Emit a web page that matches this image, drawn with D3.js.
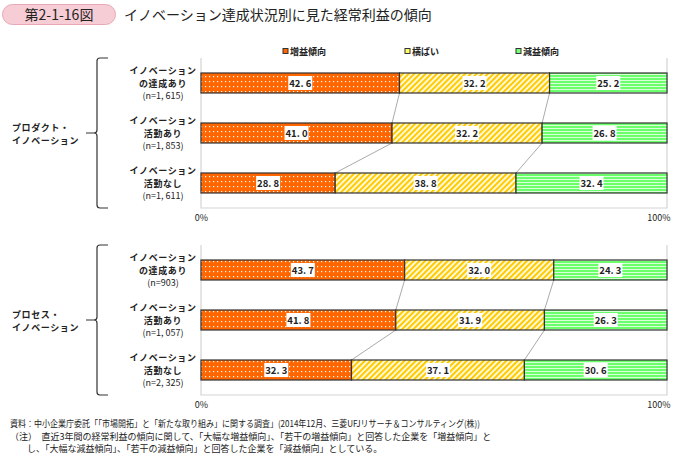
<!DOCTYPE html>
<html><head><meta charset="utf-8">
<script src="https://cdn.jsdelivr.net/npm/d3@7/dist/d3.min.js"></script>
<style>body{margin:0;background:#fff;} text{font-family:"Noto Sans CJK JP","Noto Sans",sans-serif;}</style>
</head><body>
<svg id="c" width="687" height="457"></svg>
<script>
const seriesNames = ["増益傾向", "横ばい", "減益傾向"];
const groups = ["プロダクト・\nイノベーション", "プロセス・\nイノベーション"];
const categories = [
  ["イノベーション\nの達成あり\n(n=1, 615)", "イノベーション\n活動あり\n(n=1, 853)", "イノベーション\n活動なし\n(n=1, 611)"],
  ["イノベーション\nの達成あり\n(n=903)", "イノベーション\n活動あり\n(n=1, 057)", "イノベーション\n活動なし\n(n=2, 325)"]
];
const increase = [[42.6, 41.0, 28.8], [43.7, 41.8, 32.3]];
const flat = [[32.2, 32.2, 38.8], [32.0, 31.9, 37.1]];
const decrease = [[25.2, 26.8, 32.4], [24.3, 26.3, 30.6]];
const tickLabels = ["0%", "100%"];
const title = "イノベーション達成状況別に見た経常利益の傾向";
const figNo = "第2-1-16図";
const notes = [
  "資料：中小企業庁委託「「市場開拓」と「新たな取り組み」に関する調査」(2014年12月、三菱UFJリサーチ＆コンサルティング(株))",
  "（注）　直近3年間の経常利益の傾向に関して、「大幅な増益傾向」、「若干の増益傾向」と回答した企業を「増益傾向」と",
  "し、「大幅な減益傾向」、「若干の減益傾向」と回答した企業を「減益傾向」としている。"
];

const svg = d3.select("#c");
const defs = svg.append("defs");
const pd = defs.append("pattern").attr("id","pDots").attr("patternUnits","userSpaceOnUse").attr("width",8).attr("height",5);
pd.append("rect").attr("width",8).attr("height",5).attr("fill","#FF6600");
pd.append("rect").attr("x",1).attr("y",1).attr("width",1.2).attr("height",1.2).attr("fill","#fff");
pd.append("rect").attr("x",5).attr("y",1).attr("width",1.2).attr("height",1.2).attr("fill","#fff");
const ph = defs.append("pattern").attr("id","pHatch").attr("patternUnits","userSpaceOnUse").attr("width",4).attr("height",4).attr("patternTransform","rotate(45)");
ph.append("rect").attr("width",4).attr("height",4).attr("fill","#fff");
ph.append("rect").attr("width",2.3).attr("height",4).attr("fill","#FFCC00");
const pl = defs.append("pattern").attr("id","pLines").attr("patternUnits","userSpaceOnUse").attr("width",4).attr("height",3);
pl.append("rect").attr("width",4).attr("height",3).attr("fill","#6CFF6C");
pl.append("rect").attr("y",2).attr("width",4).attr("height",1).attr("fill","#d8ffd8");
const fills = ["url(#pDots)", "url(#pHatch)", "url(#pLines)"];
const legendColors = ["#FF6600", "#FFFF66", "#77FF77"];

svg.append("rect").attr("x",2.5).attr("y",4.5).attr("width",113).attr("height",20).attr("rx",10)
  .attr("fill","#F7CDD5").attr("stroke","#E8A7B4");
svg.append("text").attr("x",59).attr("y",19.5).attr("text-anchor","middle").attr("font-size",14).attr("fill","#222").text(figNo);
svg.append("text").attr("x",124).attr("y",19.5).attr("font-size",14).attr("fill","#222").text(title);

const legendX = [283, 405, 516];
seriesNames.forEach((s,i)=>{
  svg.append("rect").attr("x",legendX[i]).attr("y",48.5).attr("width",5).attr("height",5)
    .attr("fill",legendColors[i]).attr("stroke","#333").attr("stroke-width",1);
  svg.append("text").attr("x",legendX[i]+7).attr("y",54.5).attr("font-size",9).attr("font-weight","bold").attr("fill","#222").text(s);
});

const x = d3.scaleLinear().domain([0,100]).range([201,667]);
const panelTops = [58, 245];
const panelH = 150;

panelTops.forEach((top, gi)=>{
  const g = svg.append("g");
  const y = d3.scaleBand().domain(d3.range(3)).range([top, top+panelH]).paddingInner(0.6).paddingOuter(0.3);
  g.append("path").attr("d",`M${x(0)},${top}V${top+panelH}H${x(100)}V${top}`).attr("fill","none").attr("stroke","#d4d4d4").attr("stroke-width",1.2);
  const rows = d3.range(3).map(i=>[increase[gi][i], flat[gi][i], decrease[gi][i]]);
  for(let i=0;i<2;i++){
    let c1=0,c2=0;
    for(let k=0;k<2;k++){
      c1+=rows[i][k]; c2+=rows[i+1][k];
      g.append("line").attr("x1",x(c1)).attr("y1",y(i)+y.bandwidth()).attr("x2",x(c2)).attr("y2",y(i+1))
        .attr("stroke","#aaa").attr("stroke-width",1);
    }
  }
  rows.forEach((r,i)=>{
    let cum=0;
    r.forEach((v,k)=>{
      const x0=x(cum), x1=x(cum+v);
      g.append("rect").attr("x",x0).attr("y",y(i)).attr("width",x1-x0).attr("height",y.bandwidth())
        .attr("fill",fills[k]).attr("stroke","#333").attr("stroke-width",1.2);
      const cx=(x0+x1)/2, cy=y(i)+y.bandwidth()/2;
      const txt=v.toFixed(1).replace(".", ". ");
      g.append("rect").attr("x",cx-12).attr("y",cy-7).attr("width",24).attr("height",14).attr("fill","#fff");
      g.append("text").attr("x",cx).attr("y",cy+3.5).attr("text-anchor","middle").attr("font-size",9.5).attr("font-weight","bold").attr("fill","#222").text(txt);
      cum+=v;
    });
    const lines = categories[gi][i].split("\n");
    const cy=y(i)+y.bandwidth()/2;
    lines.forEach((ln,li)=>{
      g.append("text").attr("x",163).attr("y",cy-12.5+li*12.5+3.5).attr("text-anchor","middle")
        .attr("font-size",9).attr("font-weight", li<2?"bold":"normal").attr("letter-spacing", li<2?"0.6":"0").attr("fill","#222").text(ln);
    });
  });
  const ax = d3.axisBottom(x).tickValues([0,100]).tickFormat((d,i)=>tickLabels[i]).tickSize(0);
  const axg = g.append("g").attr("transform",`translate(0,${top+panelH})`).call(ax);
  axg.select(".domain").remove();
  axg.selectAll("text").attr("font-size",9).attr("fill","#222").attr("dy","1.1em")
    .attr("font-family","'Liberation Sans Narrow','Liberation Sans',sans-serif")
    .attr("text-anchor",(d)=>d===0?"middle":"end").attr("dx",(d)=>d===0?"0":"3");
  const bx=97, mid=top+panelH/2;
  g.append("path").attr("d",`M${bx+11},${top}H${bx+3}Q${bx},${top} ${bx},${top+3}V${mid-3}Q${bx},${mid} ${bx-3},${mid}H${bx-11}M${bx-3},${mid}Q${bx},${mid} ${bx},${mid+3}V${top+panelH-3}Q${bx},${top+panelH} ${bx+3},${top+panelH}H${bx+11}`)
    .attr("fill","none").attr("stroke","#333").attr("stroke-width",1.2);
  groups[gi].split("\n").forEach((ln,li)=>{
    g.append("text").attr("x",12).attr("y",mid-6+li*13+3.5).attr("font-size",9).attr("font-weight","bold").attr("letter-spacing","0.6").attr("fill","#222").text(ln);
  });
});

svg.append("text").attr("x",10).attr("y",427).attr("font-size",9).attr("fill","#222")
  .attr("textLength",470).attr("lengthAdjust","spacingAndGlyphs").text(notes[0]);
svg.append("text").attr("x",10).attr("y",440).attr("font-size",9).attr("fill","#222").text(notes[1]);
svg.append("text").attr("x",27).attr("y",452).attr("font-size",9).attr("fill","#222").text(notes[2]);
</script>
</body></html>
